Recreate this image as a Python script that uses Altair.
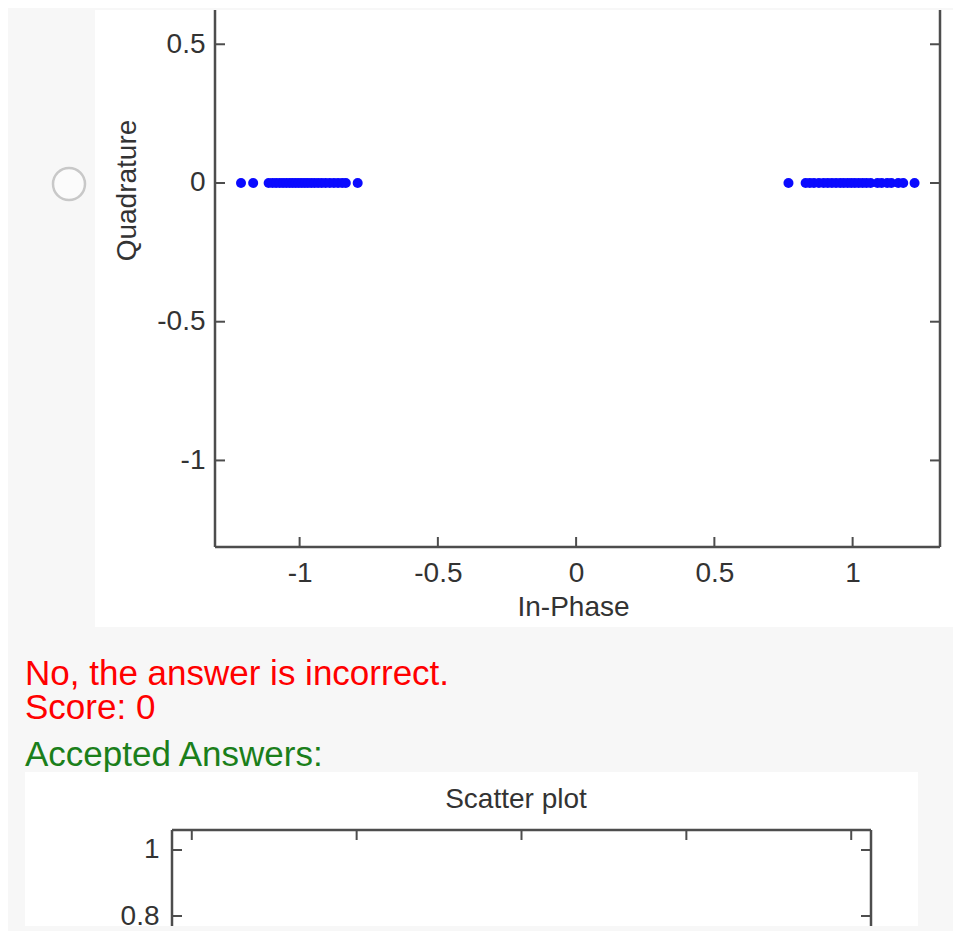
import altair as alt
import pandas as pd

# ---------------- data ----------------
# In-phase values of the received symbols (quadrature is 0 for all of them)
left_inphase = [-1.212, -1.168, -1.112, -1.098, -1.085, -1.072, -1.060, -1.048,
                -1.036, -1.025, -1.014, -1.003, -0.992, -0.981, -0.970, -0.958,
                -0.946, -0.933, -0.920, -0.906, -0.891, -0.876, -0.861, -0.846,
                -0.833, -0.790]
right_inphase = [0.768, 0.830, 0.845, 0.860, 0.878, 0.895, 0.910, 0.925, 0.940,
                 0.955, 0.968, 0.982, 0.995, 1.008, 1.022, 1.036, 1.050, 1.065,
                 1.090, 1.105, 1.125, 1.140, 1.165, 1.183, 1.224]
quadrature_value = 0.0

x_ticks = [-1, -0.5, 0, 0.5, 1]
y_ticks = [-1, -0.5, 0, 0.5]
x_domain = [-1.306, 1.316]
y_domain = [-1.312, 0.6235]

b_x_ticks = [-1, -0.5, 0, 0.5, 1]
b_y_ticks = [0.8, 1.0]
b_x_domain = [-1.06, 1.06]
b_y_domain = [0.7697, 1.0606]

x_title = "In-Phase"
y_title = "Quadrature"
b_title = "Scatter plot"
msg_wrong = "No, the answer is incorrect."
msg_score = "Score: 0"
msg_accepted = "Accepted Answers:"

# ---------------- styling ----------------
FONT = "Liberation Sans"
FRAME = "#4d4d4d"
TXT = "#333333"
PAGE = "#f7f7f7"
W, H = 725, 537          # top plot area
BW, BH = 656, 96         # bottom plot (visible part)

one = pd.DataFrame({"k": [0]})
pts = pd.DataFrame({
    "I": left_inphase + right_inphase,
    "Q": [quadrature_value] * (len(left_inphase) + len(right_inphase)),
})


def box(x, x2, y, y2, color):
    return alt.Chart(one).mark_rect(color=color).encode(
        x=alt.value(x), x2=alt.value(x2), y=alt.value(y), y2=alt.value(y2))


def label(text, x, y, size, color, align="left"):
    return alt.Chart(one).mark_text(
        text=text, align=align, baseline="alphabetic", fontSize=size,
        color=color, font=FONT).encode(x=alt.value(x), y=alt.value(y))


def vline(x, y, y2, width=2.5):
    return alt.Chart(one).mark_rule(color=FRAME, strokeWidth=width).encode(
        x=alt.value(x), y=alt.value(y), y2=alt.value(y2))


def hline(y, x, x2, width=2.5):
    return alt.Chart(one).mark_rule(color=FRAME, strokeWidth=width).encode(
        y=alt.value(y), x=alt.value(x), x2=alt.value(x2))


# ---------------- top chart ----------------
x_axis = alt.Axis(values=x_ticks, labelExpr="toString(datum.value)", domain=False,
                  ticks=False, tickSize=0, grid=False, labelFontSize=28,
                  labelColor=TXT, labelFont=FONT, labelPadding=12, labelOverlap=False,
                  labelFlush=False, titleFontSize=28, titleFont=FONT,
                  titleFontWeight="normal", titleColor=TXT, titleX=358, titleY=68,
                  titleAlign="center", titleBaseline="alphabetic", zindex=2)
y_axis = alt.Axis(values=y_ticks, labelExpr="toString(datum.value)", domain=False,
                  ticks=False, tickSize=0, grid=False, labelFontSize=28,
                  labelColor=TXT, labelFont=FONT, labelPadding=10, labelOverlap=False,
                  labelFlush=False, titleFontSize=28, titleFont=FONT,
                  titleFontWeight="normal", titleColor=TXT, titleX=-80, titleY=180,
                  titleAngle=270, titleAlign="center", titleBaseline="alphabetic",
                  zindex=2)

x_enc = alt.X("I:Q", scale=alt.Scale(domain=x_domain, nice=False, zero=False),
              axis=x_axis, title=x_title)
y_enc = alt.Y("Q:Q", scale=alt.Scale(domain=y_domain, nice=False, zero=False),
              axis=y_axis, title=y_title)

bottom_ticks = alt.Chart(pd.DataFrame({"I": x_ticks})).mark_rule(
    color=FRAME, strokeWidth=2).encode(x=x_enc, y=alt.value(H - 10), y2=alt.value(H))
left_ticks = alt.Chart(pd.DataFrame({"Q": y_ticks})).mark_rule(
    color=FRAME, strokeWidth=2).encode(y=y_enc, x=alt.value(0), x2=alt.value(10))
right_ticks = alt.Chart(pd.DataFrame({"Q": y_ticks})).mark_rule(
    color=FRAME, strokeWidth=2).encode(y=y_enc, x=alt.value(W - 10), x2=alt.value(W))

points = alt.Chart(pts).mark_circle(size=100, color="#0a0aff", opacity=1).encode(
    x=x_enc, y=y_enc)

radio = alt.Chart(one).mark_circle(size=1024, fill="#fbfbfb", stroke="#c8c8c8",
                                   strokeWidth=2.5, opacity=1).encode(
    x=alt.value(-146), y=alt.value(174))

top = alt.layer(
    box(-207, 738, 0, 916, PAGE),       # page background
    box(-120, 738, 0, 617, "#ffffff"),  # white figure panel
    radio,
    label(msg_wrong, -190, 675, 35, "#ff0000"),
    label(msg_score, -190, 709, 35, "#ff0000"),
    label(msg_accepted, -190, 756, 35, "#1b7f1b"),
    vline(0, 0, H), vline(W, 0, H), hline(H, 0, W),
    bottom_ticks, left_ticks, right_ticks,
    points,
).properties(width=W, height=H)

# ---------------- bottom chart (accepted answer, cut off) ----------------
bx_enc = alt.X("I:Q", scale=alt.Scale(domain=b_x_domain, range=[-43, BW],
                                     nice=False, zero=False), axis=None)
by_axis = alt.Axis(values=b_y_ticks, labelExpr="toString(datum.value)", domain=False,
                   ticks=False, tickSize=0, grid=False, offset=43, labelFontSize=28,
                   labelColor=TXT, labelFont=FONT, labelPadding=13,
                   labelOverlap=False, labelFlush=False, zindex=2)
by_enc = alt.Y("Q:Q", scale=alt.Scale(domain=b_y_domain, nice=False, zero=False),
               axis=by_axis, title=None)

b_top_ticks = alt.Chart(pd.DataFrame({"I": b_x_ticks})).mark_rule(
    color=FRAME, strokeWidth=2).encode(x=bx_enc, y=alt.value(0), y2=alt.value(10))
b_left_ticks = alt.Chart(pd.DataFrame({"Q": b_y_ticks})).mark_rule(
    color=FRAME, strokeWidth=2).encode(y=by_enc, x=alt.value(-43), x2=alt.value(-33))
b_right_ticks = alt.Chart(pd.DataFrame({"Q": b_y_ticks})).mark_rule(
    color=FRAME, strokeWidth=2).encode(y=by_enc, x=alt.value(BW - 10), x2=alt.value(BW))

bottom = alt.layer(
    box(-190, 703, -58, BH, "#ffffff"),
    label(b_title, 301, -22, 28, TXT, align="center"),
    hline(0, -43, BW), vline(-43, 0, BH), vline(BW, 0, BH),
    b_top_ticks, b_left_ticks, b_right_ticks,
).properties(width=BW, height=BH)

chart = alt.vconcat(top, bottom, spacing=283, bounds="flush",
                    padding=0, background=PAGE).configure(font=FONT).configure_view(stroke=None)

chart.save("out.html", embed_options={"renderer": "svg", "actions": False})
